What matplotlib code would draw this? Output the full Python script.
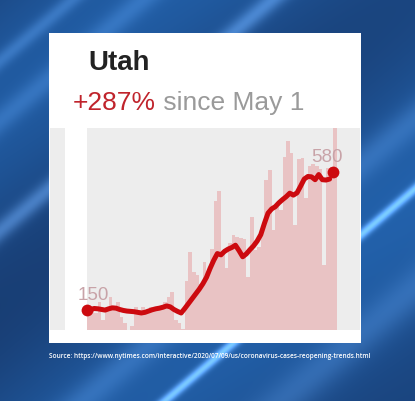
import numpy as np
import matplotlib
matplotlib.use("Agg")
import matplotlib.pyplot as plt

# ---------------- data ----------------
state = "Utah"
change_label = "+287%"
since_label = " since May 1"
start_value = 150
end_value = 580
source = "Source: https://www.nytimes.com/interactive/2020/07/09/us/coronavirus-cases-reopening-trends.html"

daily_cases = [160, 150, 140, 175, 120, 160, 190, 150, 175, 130,
               110, 60, 100, 160, 150, 160, 140, 160, 155, 150,
               160, 175, 190, 205, 120, 110, 90, 240, 330, 270,
               260, 230, 300, 265, 340, 490, 520, 330, 280, 360,
               385, 378, 375, 372, 253, 440, 337, 345, 400, 555,
               586, 400, 470, 462, 627, 675, 640, 415, 620, 625,
               500, 600, 605, 600, 590, 290, 593, 595, 720]

avg_cases = [150, 152, 155, 154, 152, 150, 154, 157, 156, 152,
             149, 147, 146, 145, 143, 141, 143, 147, 151, 154,
             156, 159, 163, 160, 152, 146, 141, 155, 170, 185,
             200, 215, 232, 252, 280, 305, 326, 322, 333, 340,
             345, 352, 335, 316, 325, 338, 350, 365, 385, 420,
             452, 465, 472, 484, 494, 503, 514, 508, 515, 536,
             558, 566, 565, 556, 572, 556, 555, 558]

# ---------------- figure ----------------
W, H = 415, 401
fig = plt.figure(figsize=(W / 100, H / 100), dpi=100)

def fx(px):
    return px / W

def fy(py):
    return 1 - py / H

# background (decorative blue streaks)
bg = fig.add_axes([0, 0, 1, 1])
yy, xx = np.mgrid[0:H, 0:W].astype(float)
u = (xx * 0.75 + yy) / (W * 0.75 + H)
base = np.zeros((H, W, 3))
c1 = np.array([0.09, 0.22, 0.42])
c2 = np.array([0.14, 0.40, 0.70])
t = np.clip(0.45 + 0.3 * np.sin(u * 11.0) + (xx / W) * 0.15, 0, 1)
for k in range(3):
    base[..., k] = c1[k] * (1 - t) + c2[k] * t
d = xx * 0.85 + yy
streaks = (np.exp(-((d - 230) / 12) ** 2) * 0.25 + np.exp(-((d - 540) / 6) ** 2) * 0.5
           + np.exp(-((d - 470) / 20) ** 2) * 0.12 + np.exp(-((d - 120) / 15) ** 2) * 0.12
           + np.exp(-((d - 640) / 25) ** 2) * 0.12 + np.exp(-((d - 60) / 10) ** 2) * 0.15)
base = np.clip(base + streaks[..., None] * np.array([0.7, 0.85, 1.0]), 0, 1)
bg.imshow(base, extent=[0, W, H, 0], aspect="auto", interpolation="bilinear")
bg.set_xlim(0, W)
bg.set_ylim(H, 0)
bg.axis("off")

# white card
card = fig.add_axes([fx(49), fy(343), fx(312), (343 - 33) / H])
card.set_facecolor("white")
card.set_xticks([])
card.set_yticks([])
for s in card.spines.values():
    s.set_visible(False)

# left gray strip (neighbouring chart)
strip = fig.add_axes([fx(50), fy(330), fx(15), (330 - 128) / H])
strip.set_facecolor("#ededed")
strip.set_xticks([])
strip.set_yticks([])
for s in strip.spines.values():
    s.set_visible(False)

# main chart
ax = fig.add_axes([fx(87), fy(330), fx(273), (330 - 128) / H])
ax.set_facecolor("#ededed")
for s in ax.spines.values():
    s.set_visible(False)
ax.set_xticks([])
ax.set_yticks([])

x_bars = np.arange(len(daily_cases))
ax.bar(x_bars, daily_cases, width=1.0, align="edge", color="#e9c3c4", linewidth=0, zorder=1)
x_line = np.arange(len(avg_cases))
ax.plot(x_line, avg_cases, color="#cc0a0f", lw=3.6, solid_joinstyle="round",
        solid_capstyle="round", zorder=3)
ax.plot([0], [start_value], "o", color="#cc0a0f", ms=8.5, mew=0, zorder=4, clip_on=False)
ax.plot([len(daily_cases) - 1], [end_value], "o", color="#cc0a0f", ms=8.5, mew=0, zorder=4, clip_on=False)
ax.set_xlim(0, 75.4)
ax.set_ylim(88, 717)

lab_kw = dict(textcoords="offset pixels", fontsize=13.5, color="#c8a3a8",
              family=["Liberation Sans", "DejaVu Sans"], zorder=5,
              annotation_clip=False)
ax.annotate(str(start_value), xy=(0, start_value), xytext=(-9, 10),
            ha="left", va="baseline", **lab_kw)
ax.annotate(str(end_value), xy=(len(daily_cases) - 1, end_value), xytext=(9, 10),
            ha="right", va="baseline", **lab_kw)

# titles
fig.text(fx(88), fy(70), state, fontsize=20, fontweight="bold", color="#222222",
         family=["Liberation Sans", "DejaVu Sans"], va="baseline", ha="left")
t1 = fig.text(fx(73), fy(110), change_label, fontsize=19, color="#c0242c",
              family=["Liberation Sans", "DejaVu Sans"], va="baseline", ha="left")
fig.canvas.draw()
bb = t1.get_window_extent()
fig.text(bb.x1 / W, fy(110), since_label, fontsize=19, color="#9a9a9a",
         family=["Liberation Sans", "DejaVu Sans"], va="baseline", ha="left")

# source
fig.text(fx(49), fy(356), source, fontsize=4.7, color="white", fontweight="semibold",
         family=["Open Sans", "DejaVu Sans"], va="center", ha="left")

fig.savefig("out.png", dpi=100)
